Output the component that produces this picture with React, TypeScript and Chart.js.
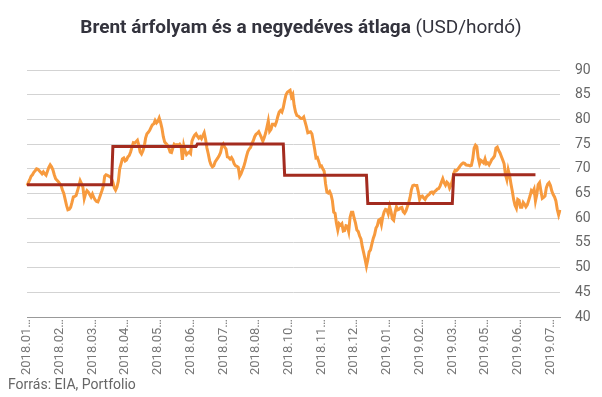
import React, { useEffect, useRef } from 'react';
import { Chart, registerables } from 'chart.js';

Chart.register(...registerables);

// Daily Brent spot price (USD/barrel), one array per month
const p2018_01 = [66.6, 67.2, 67.8, 68.5, 68.8, 69.3, 69.6, 70.0, 69.9, 69.6, 69.3, 69.0, 69.4, 69.0, 68.7, 69.5, 70.3, 70.8, 70.4, 69.8, 68.8, 68.0];
const p2018_02 = [67.7, 67.4, 67.0, 66.6, 65.7, 65.0, 63.8, 62.6, 61.7, 61.8, 62.2, 63.2, 64.3, 64.4, 64.6, 65.5, 66.5, 67.6, 67.0, 66.3];
const p2018_03 = [64.0, 65.0, 65.6, 65.3, 64.8, 64.3, 64.9, 64.2, 63.7, 63.4, 63.3, 64.0, 64.8, 65.6, 66.5, 68.5, 68.8, 68.7, 68.5, 68.4, 68.0];
const p2018_04 = [67.3, 66.2, 65.7, 66.3, 67.5, 70.0, 71.0, 72.0, 72.2, 71.6, 71.8, 72.4, 72.7, 73.4, 74.4, 75.3, 75.2, 75.5, 75.8, 74.8];
const p2018_05 = [73.4, 73.0, 73.6, 74.5, 76.2, 77.1, 77.4, 77.8, 78.4, 78.9, 79.1, 79.8, 79.3, 79.6, 80.3, 79.4, 78.2, 76.5, 75.4, 75.1, 74.8];
const p2018_06 = [74.2, 73.4, 73.3, 74.2, 75.0, 74.8, 74.9, 74.8, 75.0, 74.6, 71.8, 74.7, 73.6, 72.9, 73.2, 73.4, 73.1, 75.6, 76.3, 76.8, 77.1];
const p2018_07 = [76.6, 76.2, 76.5, 76.1, 76.7, 77.3, 76.0, 74.2, 73.0, 71.6, 70.8, 70.4, 70.6, 71.4, 71.8, 72.2, 72.7, 73.3, 74.6, 75.0, 74.4, 74.0];
const p2018_08 = [72.4, 72.3, 72.0, 72.3, 71.8, 71.0, 70.6, 70.5, 70.3, 68.5, 69.0, 69.7, 70.4, 71.4, 72.5, 73.5, 74.0, 74.3, 75.1, 75.7, 76.5, 77.0];
const p2018_09 = [77.2, 77.5, 76.9, 76.3, 75.6, 76.3, 77.2, 78.4, 79.7, 77.6, 78.0, 79.0, 79.0, 78.8, 79.5, 80.6, 81.5, 81.8, 81.5, 82.4];
const p2018_10 = [83.8, 85.0, 85.5, 85.7, 85.9, 84.6, 85.1, 82.8, 81.5, 80.8, 80.7, 80.4, 80.2, 80.2, 80.5, 79.5, 78.5, 77.3, 77.4, 77.5, 77.1, 75.6, 74.0];
const p2018_11 = [72.2, 72.3, 71.5, 70.5, 70.6, 70.0, 69.5, 67.0, 65.3, 65.1, 65.4, 64.8, 63.6, 61.2, 61.0, 59.0, 57.6, 58.9, 58.6, 58.9, 57.4, 57.5];
const p2018_12 = [58.5, 58.4, 57.3, 60.2, 61.2, 61.2, 60.0, 59.0, 57.6, 57.3, 56.4, 55.8, 54.2, 53.0, 51.7, 50.3];
const p2019_01 = [51.6, 53.2, 53.6, 54.8, 55.9, 56.7, 58.0, 58.5, 59.6, 59.8, 58.7, 60.3, 61.3, 61.8, 61.7, 60.9, 62.4, 61.4, 59.9, 59.6, 61.2, 62.3];
const p2019_02 = [61.7, 61.8, 62.1, 62.2, 61.3, 61.0, 61.5, 62.3, 63.1, 64.2, 65.8, 66.6, 66.7, 66.6, 66.6, 65.4, 63.8, 64.4, 64.5, 64.1];
const p2019_03 = [63.8, 64.3, 64.6, 64.8, 65.2, 65.3, 65.0, 65.4, 65.6, 65.9, 66.0, 66.5, 67.3, 68.0, 67.2, 66.7, 67.3, 67.0, 66.1, 66.7, 67.6];
const p2019_04 = [69.0, 69.7, 69.6, 69.9, 70.3, 70.7, 71.0, 71.2, 71.1, 70.8, 70.7, 70.7, 70.6, 70.7, 72.0, 74.2, 74.8, 74.5, 72.2, 71.0];
const p2019_05 = [71.7, 71.5, 71.2, 72.0, 71.0, 71.2, 70.8, 71.3, 71.9, 72.2, 72.6, 74.2, 74.4, 73.7, 73.2, 72.5, 71.8, 71.0, 68.8, 67.8, 69.8];
const p2019_06 = [68.7, 67.0, 65.5, 63.8, 62.6, 62.0, 63.8, 63.6, 62.2, 62.2, 63.2, 62.8, 62.3, 62.7, 63.6, 64.5, 65.6, 65.3, 65.9, 63.5];
const p2019_07 = [64.8, 66.8, 67.2, 65.5, 64.0, 64.2, 64.5, 66.2, 66.9, 67.2, 66.6, 65.5, 64.8, 64.3, 63.5, 61.8, 60.7, 61.7];

const monthKeys = [
  '2018.01', '2018.02', '2018.03', '2018.04', '2018.05', '2018.06',
  '2018.07', '2018.08', '2018.09', '2018.10', '2018.11', '2018.12',
  '2019.01', '2019.02', '2019.03', '2019.04', '2019.05', '2019.06', '2019.07',
];
const monthSeries = [
  p2018_01, p2018_02, p2018_03, p2018_04, p2018_05, p2018_06,
  p2018_07, p2018_08, p2018_09, p2018_10, p2018_11, p2018_12,
  p2019_01, p2019_02, p2019_03, p2019_04, p2019_05, p2019_06, p2019_07,
];
// Quarterly averages (2018 Q1 .. 2019 Q2); the running quarter has none yet
const quarterAvg: (number | null)[] = [66.8, 74.5, 75.0, 68.7, 63.0, 68.8, null];
const holidays = ['2018.01.01', '2018.03.30', '2018.04.02', '2018.05.07', '2018.05.28', '2018.08.27',
  '2018.12.24', '2018.12.25', '2018.12.26', '2018.12.31', '2019.01.01', '2019.04.19', '2019.04.22',
  '2019.05.06', '2019.05.27'];
const labelStep = 24;

function tradingLabels(key: string, n: number): string[] {
  const [y, m] = key.split('.').map(Number);
  const out: string[] = [];
  for (let d = 1; d <= 31 && out.length < n; d++) {
    const dt = new Date(Date.UTC(y, m - 1, d));
    if (dt.getUTCMonth() !== m - 1) break;
    const wd = dt.getUTCDay();
    const s = `${key}.${String(d).padStart(2, '0')}`;
    if (wd === 0 || wd === 6 || holidays.includes(s)) continue;
    out.push(s + '.');
  }
  while (out.length < n) out.push(`${key}.`);
  return out;
}

const labels: string[] = [];
const prices: number[] = [];
const averages: (number | null)[] = [];
monthKeys.forEach((k, mi) => {
  const arr = monthSeries[mi];
  labels.push(...tradingLabels(k, arr.length));
  arr.forEach((v) => {
    prices.push(v);
    averages.push(quarterAvg[Math.floor(mi / 3)]);
  });
});

export default function App() {
  const ref = useRef<HTMLCanvasElement | null>(null);
  useEffect(() => {
    if (!ref.current) return;
    const chart = new Chart(ref.current, {
      type: 'line',
      data: {
        labels,
        datasets: [
          {
            label: 'Negyedéves átlag',
            data: averages,
            borderColor: '#a32b1f',
            borderWidth: 3,
            pointRadius: 0,
            tension: 0,
            spanGaps: false,
            order: 0,
          },
          {
            label: 'Brent',
            data: prices,
            borderColor: '#f79a3e',
            borderWidth: 3,
            pointRadius: 0,
            tension: 0,
            order: 1,
          },
        ],
      },
      options: {
        animation: false,
        responsive: false,
        maintainAspectRatio: false,
        layout: { padding: { left: 27, right: 0, top: 70, bottom: 20 } },
        plugins: {
          legend: { display: false },
          title: { display: false },
          tooltip: { enabled: false },
        },
        scales: {
          x: {
            type: 'category',
            offset: false,
            grid: { display: false, drawTicks: false },
            border: { display: true, color: '#999999', width: 1 },
            ticks: {
              autoSkip: false,
              minRotation: 90,
              maxRotation: 90,
              padding: 2,
              color: '#777777',
              font: { family: 'Roboto', size: 13 },
              callback: (_v: any, i: number) => (i % labelStep === 0 ? labels[i].slice(0, 7) + '…' : null),
            },
          },
          y: {
            position: 'right',
            min: 40,
            max: 90,
            afterFit: (s: any) => {
              s.width = 42;
            },
            ticks: {
              stepSize: 5,
              padding: 15,
              color: '#666666',
              font: { family: 'Roboto', size: 14 },
            },
            grid: { color: '#d3d3d3', drawTicks: false },
            border: { display: false },
          },
        },
      },
    });
    return () => chart.destroy();
  }, []);

  return (
    <div style={{ position: 'fixed', left: 0, top: 0, width: 602, height: 397, background: '#fff', fontFamily: 'Roboto, sans-serif' }}>
      <canvas ref={ref} width={602} height={397} style={{ position: 'absolute', left: 0, top: 0, width: 602, height: 397 }} />
      <div style={{ position: 'absolute', left: 0, top: 15, width: 602, textAlign: 'center', fontSize: 19, lineHeight: '24px', color: '#33333d' }}>
        <span style={{ fontWeight: 700 }}>Brent árfolyam és a negyedéves átlaga</span>
        <span style={{ fontWeight: 400 }}> (USD/hordó)</span>
      </div>
      <div style={{ position: 'absolute', left: 8, top: 376, fontSize: 14, lineHeight: '16px', color: '#666' }}>
        Forrás: EIA, Portfolio
      </div>
    </div>
  );
}
